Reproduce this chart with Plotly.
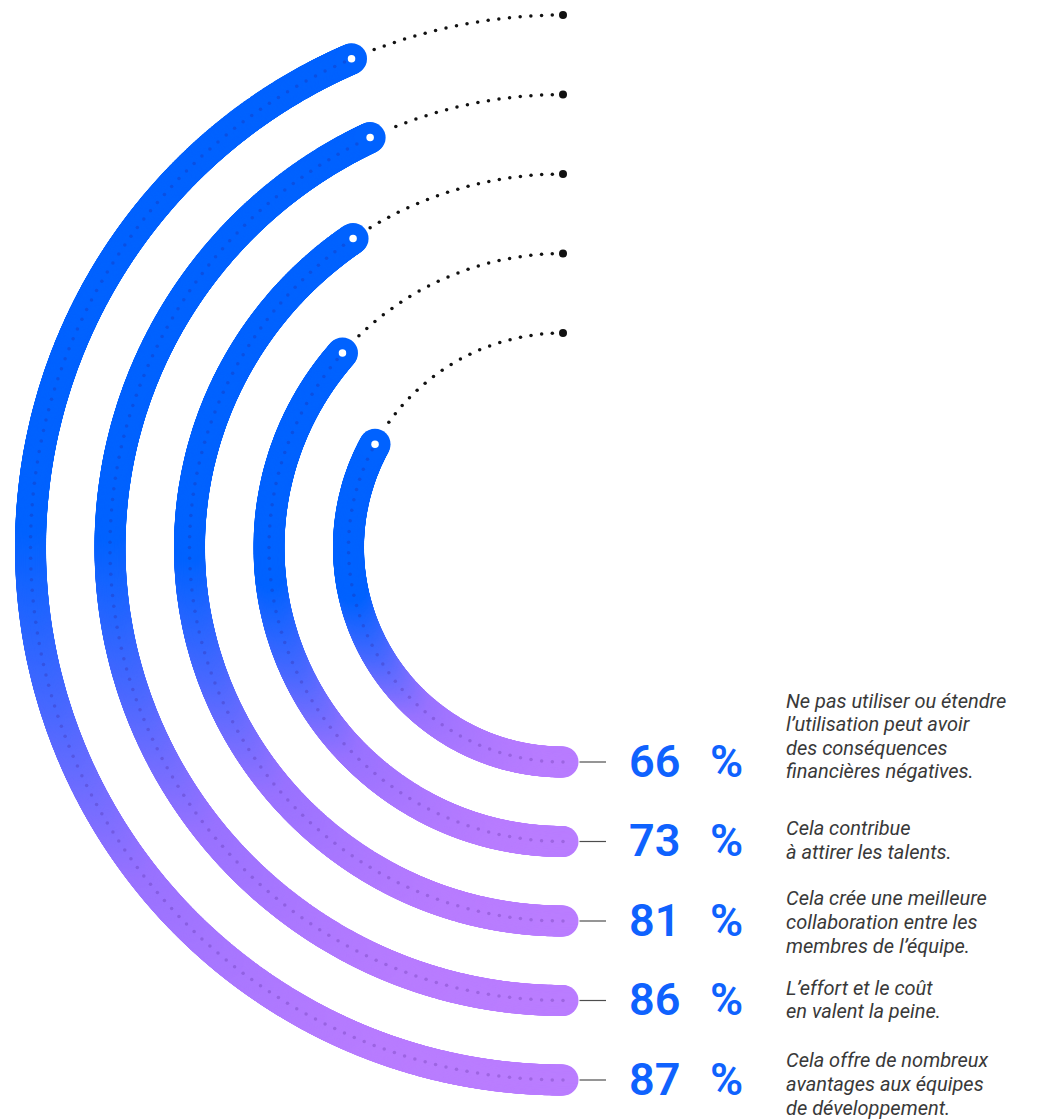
import numpy as np
import plotly.graph_objects as go

# ---------------- data ----------------
values = [66, 73, 81, 86, 87]
value_labels = ["66", "73", "81", "86", "87"]
descriptions = [
    ["Ne pas utiliser ou étendre", "l’utilisation peut avoir", "des conséquences", "financières négatives."],
    ["Cela contribue", "à attirer les talents."],
    ["Cela crée une meilleure", "collaboration entre les", "membres de l’équipe."],
    ["L’effort et le coût", "en valent la peine."],
    ["Cela offre de nombreux", "avantages aux équipes", "de développement."],
]

# ---------------- layout / style constants ----------------
W_PX, H_PX = 1039, 1120
CX, CY = 563.0, 547.5          # centre of the rings
R0, DR = 214.5, 79.5           # innermost radius, ring spacing
STROKE = 31                    # ring thickness
DOT_GAP = 10.7                 # spacing of the dotted guide
desc_offsets = [-27, -2.5, 0, -2, 3]
LINE_GAP = 23.6

BLUE_NUM = "#0f62fe"
TEXT_COL = "#393939"

grad_stops = [
    (0.00, (0, 98, 255)),
    (0.45, (0, 98, 255)),
    (0.62, (72, 104, 255)),
    (0.78, (152, 114, 255)),
    (0.95, (184, 124, 255)),
    (1.00, (187, 126, 255)),
]


def grad_color(s):
    s = min(max(s, 0.0), 1.0)
    for (s0, c0), (s1, c1) in zip(grad_stops[:-1], grad_stops[1:]):
        if s0 <= s <= s1:
            t = 0 if s1 == s0 else (s - s0) / (s1 - s0)
            c = [round(a + (b - a) * t) for a, b in zip(c0, c1)]
            return f"rgb({c[0]},{c[1]},{c[2]})"
    c = grad_stops[-1][1]
    return f"rgb({c[0]},{c[1]},{c[2]})"


fig = go.Figure()
annotations = []
shapes = []

for i, v in enumerate(values):
    r = R0 + DR * i
    th_end = v / 100.0 * np.pi
    # thick gradient ring (dense round markers)
    n = int(r * th_end / 1.0) + 2
    th = np.linspace(0, th_end, n)
    x = CX - r * np.sin(th)
    y = CY + r * np.cos(th)
    top = CY + r * np.cos(th_end) - STROKE / 2
    bottom = CY + r + STROKE / 2
    cols = [grad_color((yy - top) / (bottom - top)) for yy in y]
    fig.add_trace(go.Scatter(
        x=x, y=y, mode="markers",
        marker=dict(size=STROKE, color=cols, line=dict(width=0)),
        hoverinfo="skip", showlegend=False,
    ))

    # dotted guide along the full half circle
    nd = int(round(np.pi * r / DOT_GAP))
    thd = np.linspace(0, np.pi, nd + 1)
    cap = (STROKE / 2 + 2) / r
    inner = thd[thd < th_end - 6 / r]
    outer = thd[(thd > th_end + cap) & (thd < np.pi - 1e-9)]
    fig.add_trace(go.Scatter(
        x=CX - r * np.sin(inner), y=CY + r * np.cos(inner), mode="markers",
        marker=dict(size=3.5, color="rgba(50,10,110,0.2)", line=dict(width=0)),
        hoverinfo="skip", showlegend=False,
    ))
    fig.add_trace(go.Scatter(
        x=CX - r * np.sin(outer), y=CY + r * np.cos(outer), mode="markers",
        marker=dict(size=3.5, color="#111111", line=dict(width=0)),
        hoverinfo="skip", showlegend=False,
    ))
    # big end dot at the top
    fig.add_trace(go.Scatter(
        x=[CX], y=[CY - r], mode="markers",
        marker=dict(size=8, color="#111111", line=dict(width=0)),
        hoverinfo="skip", showlegend=False,
    ))
    # white dot at the ring's end
    fig.add_trace(go.Scatter(
        x=[CX - r * np.sin(th_end)], y=[CY + r * np.cos(th_end)], mode="markers",
        marker=dict(size=7.5, color="white", line=dict(width=0)),
        hoverinfo="skip", showlegend=False,
    ))

    yb = CY + r
    # connector line
    shapes.append(dict(type="line", xref="x", yref="y",
                       x0=CX + STROKE / 2 + 1, x1=606, y0=yb, y1=yb,
                       line=dict(color="#4d4d4d", width=1.2)))
    # value and percent sign
    annotations.append(dict(
        x=627, y=yb - 1, xref="x", yref="y", xanchor="left", yanchor="middle",
        text=value_labels[i], showarrow=False,
        font=dict(family="Roboto, Inter, sans-serif", size=45, color=BLUE_NUM, weight=600),
    ))
    annotations.append(dict(
        x=708, y=yb - 1, xref="x", yref="y", xanchor="left", yanchor="middle",
        text="%", showarrow=False,
        font=dict(family="Roboto, Inter, sans-serif", size=45, color=BLUE_NUM, weight=600),
    ))
    # description, one annotation per line for tight leading
    lines = descriptions[i]
    k = len(lines)
    yc = yb + desc_offsets[i]
    for j, line in enumerate(lines):
        annotations.append(dict(
            x=784, y=yc + (j - (k - 1) / 2) * LINE_GAP + 1,
            xref="x", yref="y", xanchor="left", yanchor="middle",
            text=line, showarrow=False, align="left",
            font=dict(family="Roboto, 'Noto Sans', sans-serif", size=20,
                      color=TEXT_COL, style="italic"),
        ))

fig.update_layout(
    width=W_PX, height=H_PX,
    margin=dict(l=0, r=0, t=0, b=0),
    paper_bgcolor="white", plot_bgcolor="white",
    xaxis=dict(range=[0, W_PX], visible=False, fixedrange=True),
    yaxis=dict(range=[H_PX, 0], visible=False, fixedrange=True),
    annotations=annotations, shapes=shapes,
    showlegend=False,
)

fig.write_html("out.html")
